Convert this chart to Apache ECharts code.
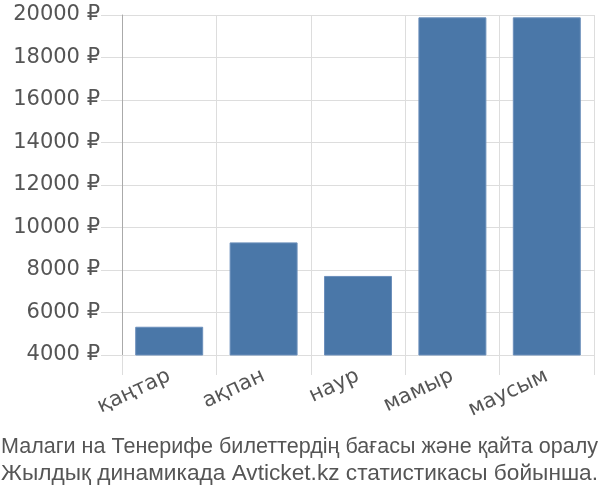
<!DOCTYPE html>
<html>
<head>
<meta charset="utf-8">
<script src="https://cdn.jsdelivr.net/npm/echarts@6/dist/echarts.min.js"></script>
<style>html,body{margin:0;padding:0;background:#fff;}#c{width:600px;height:500px;}</style>
</head>
<body>
<div id="c"></div>
<script>
var categories = ['қаңтар', 'ақпан', 'наур', 'мамыр', 'маусым'];
var prices = [5330, 9300, 7720, 19890, 19890];
var yMin = 4000, yMax = 20000, yStep = 2000;
var titleLines = ['Малаги на Тенерифе билеттердің бағасы және қайта оралу', 'Жылдық динамикада Avticket.kz статистикасы бойынша.'];

var titleFont = '22px "Liberation Sans"';
var ctx = document.createElement('canvas').getContext('2d');
ctx.font = titleFont;
var titleTargetWidth = 597;
var titleY = [447, 473.5];
var titleGraphics = titleLines.map(function (line, i) {
  var w = ctx.measureText(line).width;
  return {
    type: 'text',
    x: 1, y: titleY[i],
    scaleX: titleTargetWidth / w,
    style: {text: line, x: 0, y: 0, font: titleFont, fill: '#555', verticalAlign: 'middle', align: 'left'}
  };
});

var chart = echarts.init(document.getElementById('c'), null, {renderer: 'canvas'});
chart.setOption({
  animation: false,
  backgroundColor: '#fff',
  graphic: titleGraphics,
  grid: {left: 122, right: 6, top: 15, bottom: 145},
  xAxis: {
    type: 'category',
    data: categories,
    axisLine: {show: true, lineStyle: {color: '#ddd', width: 1}},
    axisTick: {show: true, length: 20, lineStyle: {color: '#ddd'}},
    splitLine: {show: true, lineStyle: {color: '#ddd', width: 1}},
    axisLabel: {rotate: 25, margin: 20, fontFamily: 'DejaVu Sans', fontSize: 21, color: '#555'}
  },
  yAxis: {
    type: 'value',
    min: yMin, max: yMax, interval: yStep,
    axisLine: {show: true, lineStyle: {color: '#aaa', width: 1}},
    axisTick: {show: true, length: 21, lineStyle: {color: '#ddd'}},
    splitLine: {show: true, lineStyle: {color: '#ddd', width: 1}},
    axisLabel: {margin: 22, padding: [3, 0, 0, 0], fontFamily: 'DejaVu Sans', fontSize: 21, color: '#555', formatter: function (v) { return v + ' ₽'; }}
  },
  series: [{
    type: 'bar',
    data: prices,
    barCategoryGap: '28%',
    itemStyle: {color: '#4a77a8', borderColor: '#6b8fbb', borderWidth: 1}
  }]
});
</script>
</body>
</html>
